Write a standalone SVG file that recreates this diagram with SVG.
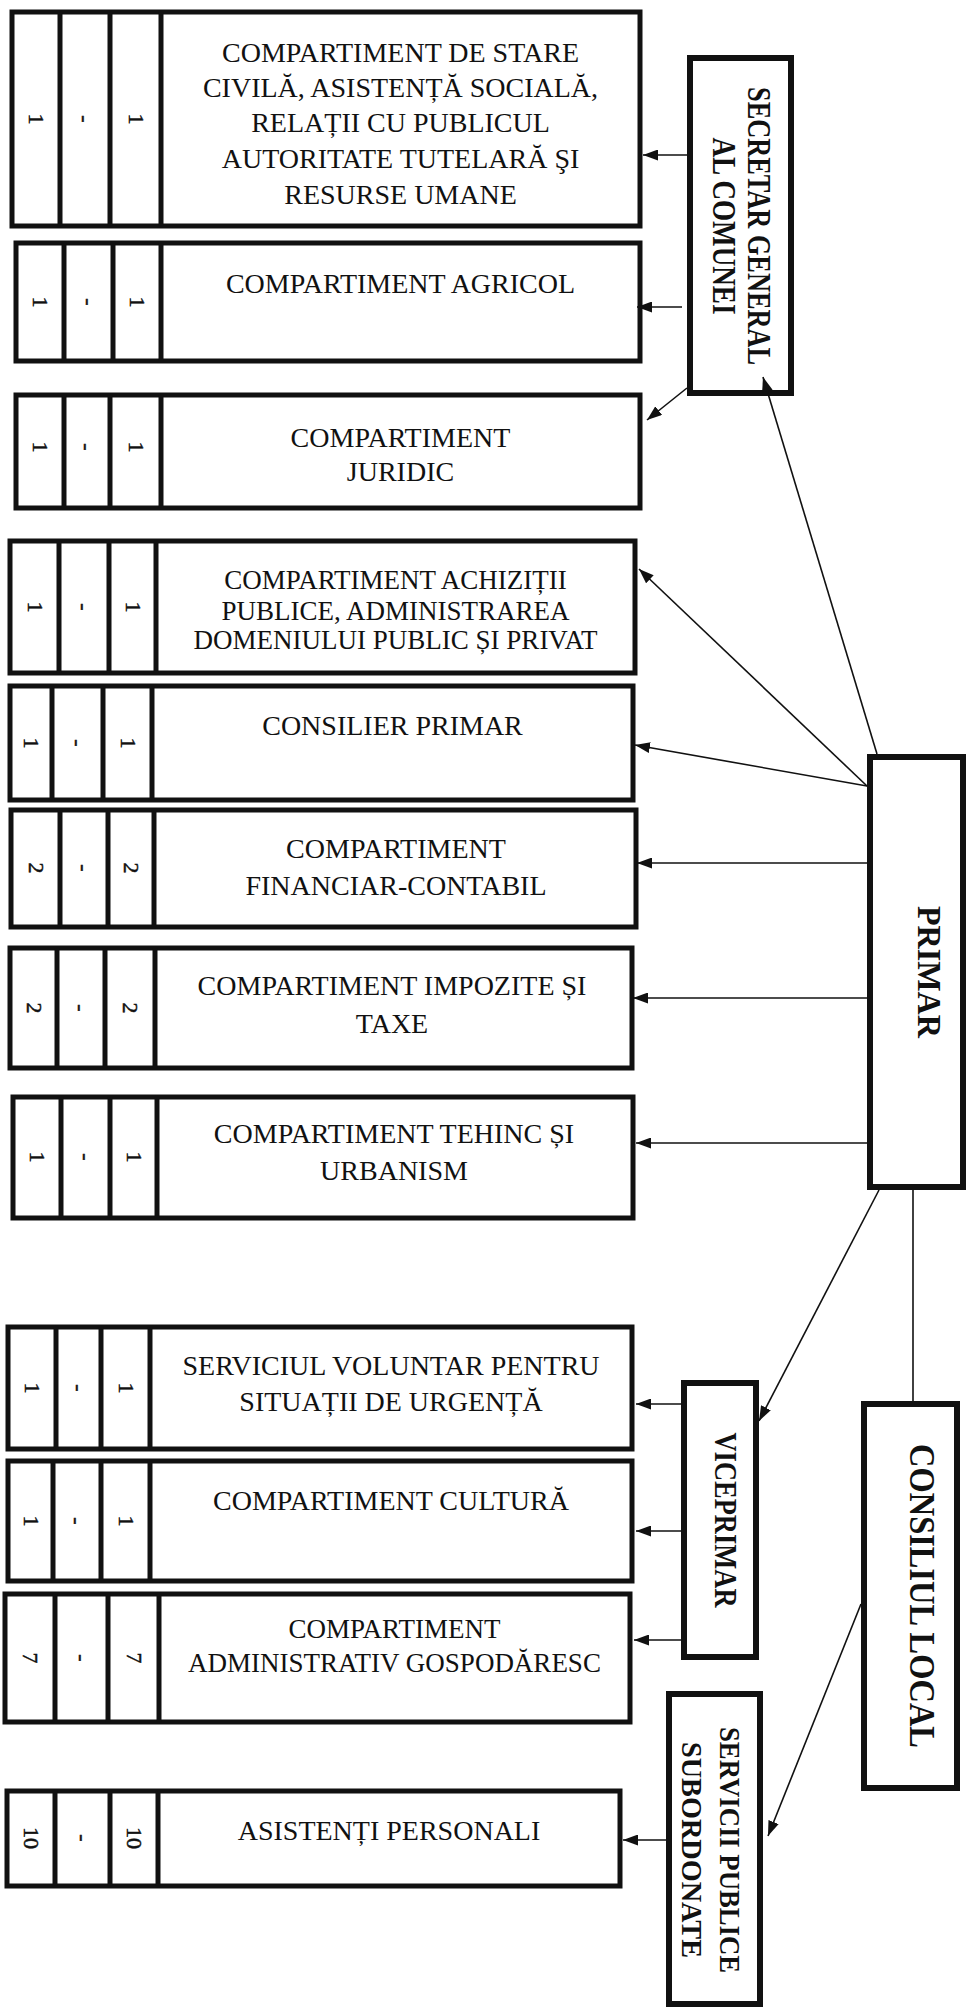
<svg xmlns="http://www.w3.org/2000/svg" width="970" height="2008" viewBox="0 0 970 2008">
<defs>
<style>
.bx{fill:#fff;stroke:#111;stroke-width:5}
.dv{stroke:#111;stroke-width:5}
.sb{fill:#fff;stroke:#111;stroke-width:6}
.t{font-family:"Liberation Serif","Times New Roman",serif;font-size:28px;fill:#111;text-anchor:middle}
.ts{font-size:27px}
.n{font-family:"Liberation Serif","Times New Roman",serif;font-size:22px;fill:#111;text-anchor:middle;stroke:#111;stroke-width:0.5}
.b{font-family:"Liberation Serif","Times New Roman",serif;font-weight:bold;fill:#111;text-anchor:middle}
.c{stroke:#111;stroke-width:1.6;fill:none}
.a{marker-end:url(#ah)}
</style>
<marker id="ah" markerWidth="15" markerHeight="11" refX="15" refY="5.5" orient="auto" markerUnits="userSpaceOnUse">
<path d="M0,0 L15,5.5 L0,11 z" fill="#111"/>
</marker>
</defs>
<rect width="970" height="2008" fill="#fff"/>

<g id="secretar">
<rect class="sb" x="690" y="58" width="101" height="335"/>
<text class="b" font-size="33" textLength="278" lengthAdjust="spacingAndGlyphs" transform="translate(748,226) rotate(90)">SECRETAR GENERAL</text>
<text class="b" font-size="33" textLength="177" lengthAdjust="spacingAndGlyphs" transform="translate(713,226) rotate(90)">AL COMUNEI</text>
</g>

<g id="primar">
<rect class="sb" x="870" y="757" width="93" height="430"/>
<text class="b" font-size="34" textLength="132" lengthAdjust="spacingAndGlyphs" transform="translate(918,972) rotate(90)">PRIMAR</text>
</g>

<g id="viceprimar">
<rect class="sb" x="684" y="1383" width="72" height="274"/>
<text class="b" font-size="32" textLength="175" lengthAdjust="spacingAndGlyphs" transform="translate(715,1520) rotate(90)">VICEPRIMAR</text>
</g>

<g id="consiliul">
<rect class="sb" x="864" y="1404" width="93" height="384"/>
<text class="b" font-size="35" textLength="304" lengthAdjust="spacingAndGlyphs" transform="translate(910,1596) rotate(90)">CONSILIUL LOCAL</text>
</g>

<g id="servicii">
<rect class="sb" x="669" y="1694" width="91" height="310"/>
<text class="b" font-size="30" textLength="246" lengthAdjust="spacingAndGlyphs" transform="translate(720,1850) rotate(90)">SERVICII PUBLICE</text>
<text class="b" font-size="30" textLength="216" lengthAdjust="spacingAndGlyphs" transform="translate(682,1850) rotate(90)">SUBORDONATE</text>
</g>

<g id="box1">
<rect class="bx" x="12" y="12" width="628" height="214"/>
<line class="dv" x1="60" y1="12" x2="60" y2="226"/><line class="dv" x1="110" y1="12" x2="110" y2="226"/><line class="dv" x1="161" y1="12" x2="161" y2="226"/>
<text class="n" transform="translate(29,119) rotate(90)">1</text><text class="n" transform="translate(78,119) rotate(90)">-</text><text class="n" transform="translate(128.5,119) rotate(90)">1</text>
<text class="t" x="400.5" y="62">COMPARTIMENT DE STARE</text>
<text class="t" x="400.5" y="97">CIVILĂ, ASISTENȚĂ SOCIALĂ,</text>
<text class="t" x="400.5" y="132">RELAȚII CU PUBLICUL</text>
<text class="t" x="400.5" y="168">AUTORITATE TUTELARĂ ŞI</text>
<text class="t" x="400.5" y="204">RESURSE UMANE</text>
</g>

<g id="box2">
<rect class="bx" x="16" y="243" width="624" height="118"/>
<line class="dv" x1="64" y1="243" x2="64" y2="361"/><line class="dv" x1="113" y1="243" x2="113" y2="361"/><line class="dv" x1="161" y1="243" x2="161" y2="361"/>
<text class="n" transform="translate(33,302) rotate(90)">1</text><text class="n" transform="translate(81.5,302) rotate(90)">-</text><text class="n" transform="translate(130,302) rotate(90)">1</text>
<text class="t" x="400.5" y="293">COMPARTIMENT AGRICOL</text>
</g>

<g id="box3">
<rect class="bx" x="16" y="395" width="624" height="113"/>
<line class="dv" x1="64" y1="395" x2="64" y2="508"/><line class="dv" x1="110" y1="395" x2="110" y2="508"/><line class="dv" x1="161" y1="395" x2="161" y2="508"/>
<text class="n" transform="translate(33,447) rotate(90)">1</text><text class="n" transform="translate(80,447) rotate(90)">-</text><text class="n" transform="translate(128.5,447) rotate(90)">1</text>
<text class="t" x="400.5" y="447">COMPARTIMENT</text>
<text class="t" x="400.5" y="481">JURIDIC</text>
</g>

<g id="box4">
<rect class="bx" x="10" y="541" width="625" height="132"/>
<line class="dv" x1="59" y1="541" x2="59" y2="673"/><line class="dv" x1="109" y1="541" x2="109" y2="673"/><line class="dv" x1="156" y1="541" x2="156" y2="673"/>
<text class="n" transform="translate(27.5,607) rotate(90)">1</text><text class="n" transform="translate(77,607) rotate(90)">-</text><text class="n" transform="translate(125.5,607) rotate(90)">1</text>
<text class="t ts" x="395.5" y="589">COMPARTIMENT ACHIZIȚII</text>
<text class="t ts" x="395.5" y="620">PUBLICE, ADMINISTRAREA</text>
<text class="t ts" x="395.5" y="649">DOMENIULUI PUBLIC ȘI PRIVAT</text>
</g>

<g id="box5">
<rect class="bx" x="10" y="686" width="623" height="114"/>
<line class="dv" x1="52" y1="686" x2="52" y2="800"/><line class="dv" x1="103" y1="686" x2="103" y2="800"/><line class="dv" x1="152" y1="686" x2="152" y2="800"/>
<text class="n" transform="translate(24,743) rotate(90)">1</text><text class="n" transform="translate(70.5,743) rotate(90)">-</text><text class="n" transform="translate(120.5,743) rotate(90)">1</text>
<text class="t" x="392.5" y="735">CONSILIER PRIMAR</text>
</g>

<g id="box6">
<rect class="bx" x="11" y="810" width="625" height="117"/>
<line class="dv" x1="60" y1="810" x2="60" y2="927"/><line class="dv" x1="108" y1="810" x2="108" y2="927"/><line class="dv" x1="154" y1="810" x2="154" y2="927"/>
<text class="n" transform="translate(28.5,868) rotate(90)">2</text><text class="n" transform="translate(77,868) rotate(90)">-</text><text class="n" transform="translate(124,868) rotate(90)">2</text>
<text class="t" x="396" y="858">COMPARTIMENT</text>
<text class="t" x="396" y="895">FINANCIAR-CONTABIL</text>
</g>

<g id="box7">
<rect class="bx" x="10" y="948" width="622" height="120"/>
<line class="dv" x1="57" y1="948" x2="57" y2="1068"/><line class="dv" x1="105" y1="948" x2="105" y2="1068"/><line class="dv" x1="155" y1="948" x2="155" y2="1068"/>
<text class="n" transform="translate(26.5,1008) rotate(90)">2</text><text class="n" transform="translate(74,1008) rotate(90)">-</text><text class="n" transform="translate(123,1008) rotate(90)">2</text>
<text class="t" x="392" y="995">COMPARTIMENT IMPOZITE ȘI</text>
<text class="t" x="392" y="1033">TAXE</text>
</g>

<g id="box8">
<rect class="bx" x="13" y="1097" width="620" height="121"/>
<line class="dv" x1="61" y1="1097" x2="61" y2="1218"/><line class="dv" x1="110" y1="1097" x2="110" y2="1218"/><line class="dv" x1="157" y1="1097" x2="157" y2="1218"/>
<text class="n" transform="translate(30,1157) rotate(90)">1</text><text class="n" transform="translate(78.5,1157) rotate(90)">-</text><text class="n" transform="translate(126.5,1157) rotate(90)">1</text>
<text class="t" x="394" y="1143">COMPARTIMENT TEHINC ȘI</text>
<text class="t" x="394" y="1180">URBANISM</text>
</g>

<g id="box9">
<rect class="bx" x="8" y="1327" width="624" height="122"/>
<line class="dv" x1="56" y1="1327" x2="56" y2="1449"/><line class="dv" x1="101" y1="1327" x2="101" y2="1449"/><line class="dv" x1="150" y1="1327" x2="150" y2="1449"/>
<text class="n" transform="translate(25,1388) rotate(90)">1</text><text class="n" transform="translate(71.5,1388) rotate(90)">-</text><text class="n" transform="translate(118.5,1388) rotate(90)">1</text>
<text class="t" x="391" y="1375">SERVICIUL VOLUNTAR PENTRU</text>
<text class="t" x="391" y="1411">SITUAȚII DE URGENȚĂ</text>
</g>

<g id="box10">
<rect class="bx" x="8" y="1461" width="624" height="120"/>
<line class="dv" x1="53" y1="1461" x2="53" y2="1581"/><line class="dv" x1="101" y1="1461" x2="101" y2="1581"/><line class="dv" x1="150" y1="1461" x2="150" y2="1581"/>
<text class="n" transform="translate(23.5,1521) rotate(90)">1</text><text class="n" transform="translate(70,1521) rotate(90)">-</text><text class="n" transform="translate(118.5,1521) rotate(90)">1</text>
<text class="t" x="391" y="1510">COMPARTIMENT CULTURĂ</text>
</g>

<g id="box11">
<rect class="bx" x="5" y="1594" width="625" height="128"/>
<line class="dv" x1="55" y1="1594" x2="55" y2="1722"/><line class="dv" x1="108" y1="1594" x2="108" y2="1722"/><line class="dv" x1="159" y1="1594" x2="159" y2="1722"/>
<text class="n" transform="translate(23,1658) rotate(90)">7</text><text class="n" transform="translate(74.5,1658) rotate(90)">-</text><text class="n" transform="translate(126.5,1658) rotate(90)">7</text>
<text class="t ts" x="394.5" y="1638">COMPARTIMENT</text>
<text class="t ts" x="394.5" y="1672">ADMINISTRATIV GOSPODĂRESC</text>
</g>

<g id="box12">
<rect class="bx" x="7" y="1791" width="613" height="95"/>
<line class="dv" x1="55" y1="1791" x2="55" y2="1886"/><line class="dv" x1="110" y1="1791" x2="110" y2="1886"/><line class="dv" x1="158" y1="1791" x2="158" y2="1886"/>
<text class="n" transform="translate(24,1838) rotate(90)">10</text><text class="n" transform="translate(75.5,1838) rotate(90)">-</text><text class="n" transform="translate(127,1838) rotate(90)">10</text>
<text class="t" x="389" y="1840">ASISTENȚI PERSONALI</text>
</g>

<g id="connectors">
<path class="c a" d="M687,155 L643,155"/>
<path class="c a" d="M682,307 L637,307"/>
<path class="c a" d="M687,388 L647,420"/>
<path class="c a" d="M877,754 L763,377"/>
<path class="c a" d="M867,786 L639,569"/>
<path class="c a" d="M867,786 L635,745"/>
<path class="c a" d="M867,863 L637,863"/>
<path class="c a" d="M867,998 L633,998"/>
<path class="c a" d="M867,1143 L636,1143"/>
<path class="c a" d="M879,1190 L759,1421"/>
<path class="c" d="M913,1190 L913,1401"/>
<path class="c a" d="M681,1404 L636,1404"/>
<path class="c a" d="M681,1531 L636,1531"/>
<path class="c a" d="M681,1640 L634,1640"/>
<path class="c a" d="M861,1604 L768,1836"/>
<path class="c a" d="M666,1840 L623,1840"/>
</g>
</svg>
